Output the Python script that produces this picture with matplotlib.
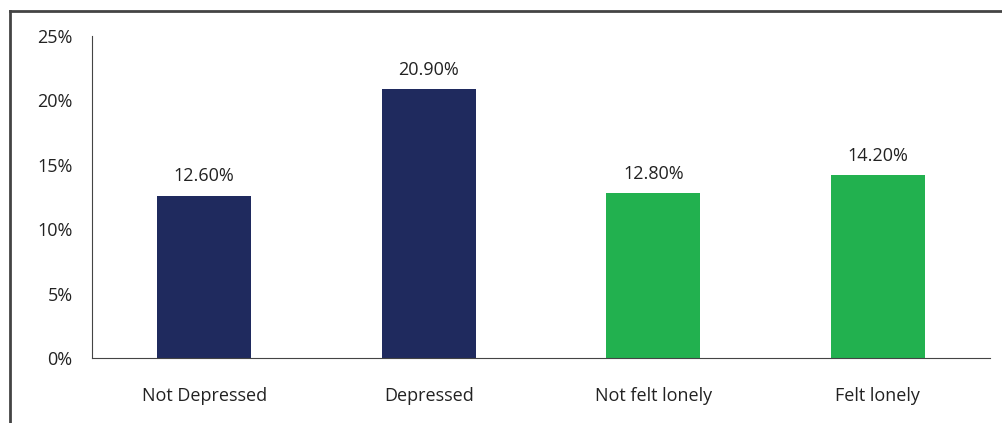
import matplotlib.pyplot as plt
from matplotlib.lines import Line2D
import numpy as np

categories = ["Not Depressed", "Depressed", "Not felt lonely", "Felt lonely"]
values = [12.6, 20.9, 12.8, 14.2]
colors = ["#1f2a5e", "#1f2a5e", "#22b14f", "#22b14f"]
yticks = [0, 5, 10, 15, 20, 25]

plt.rcParams["font.family"] = ["Open Sans", "DejaVu Sans"]

W, H = 1002, 423
fig = plt.figure(figsize=(W / 100, H / 100), dpi=100)
ax = fig.add_axes([92 / W, 1 - 358 / H, (990 - 92) / W, (358 - 36) / H])

x = np.arange(len(categories))
ax.bar(x, values, width=0.42, color=colors)
for xi, v in zip(x, values):
    ax.text(xi, v + 0.8, f"{v:.2f}%", ha="center", va="bottom", fontsize=13, color="#222222")

ax.set_xlim(-0.5, len(categories) - 0.5)
ax.set_ylim(0, 25)
ax.set_yticks(yticks)
ax.set_yticklabels([f"{t}%" for t in yticks], fontsize=13, color="#222222")
ax.set_xticks(x)
ax.set_xticklabels(categories, fontsize=13, color="#222222")
ax.tick_params(axis="both", length=0)
ax.tick_params(axis="y", pad=14)
ax.tick_params(axis="x", pad=21)
for s in ["top", "right"]:
    ax.spines[s].set_visible(False)
ax.spines["left"].set_color("#444444")
ax.spines["bottom"].set_color("#444444")

# outer frame (left and top edges)
fig.add_artist(Line2D([10 / W, 10 / W], [0, 1 - 11 / H], color="#444444", lw=2))
fig.add_artist(Line2D([10 / W, 1], [1 - 11 / H, 1 - 11 / H], color="#444444", lw=2))

fig.savefig("out.png", dpi=100)
